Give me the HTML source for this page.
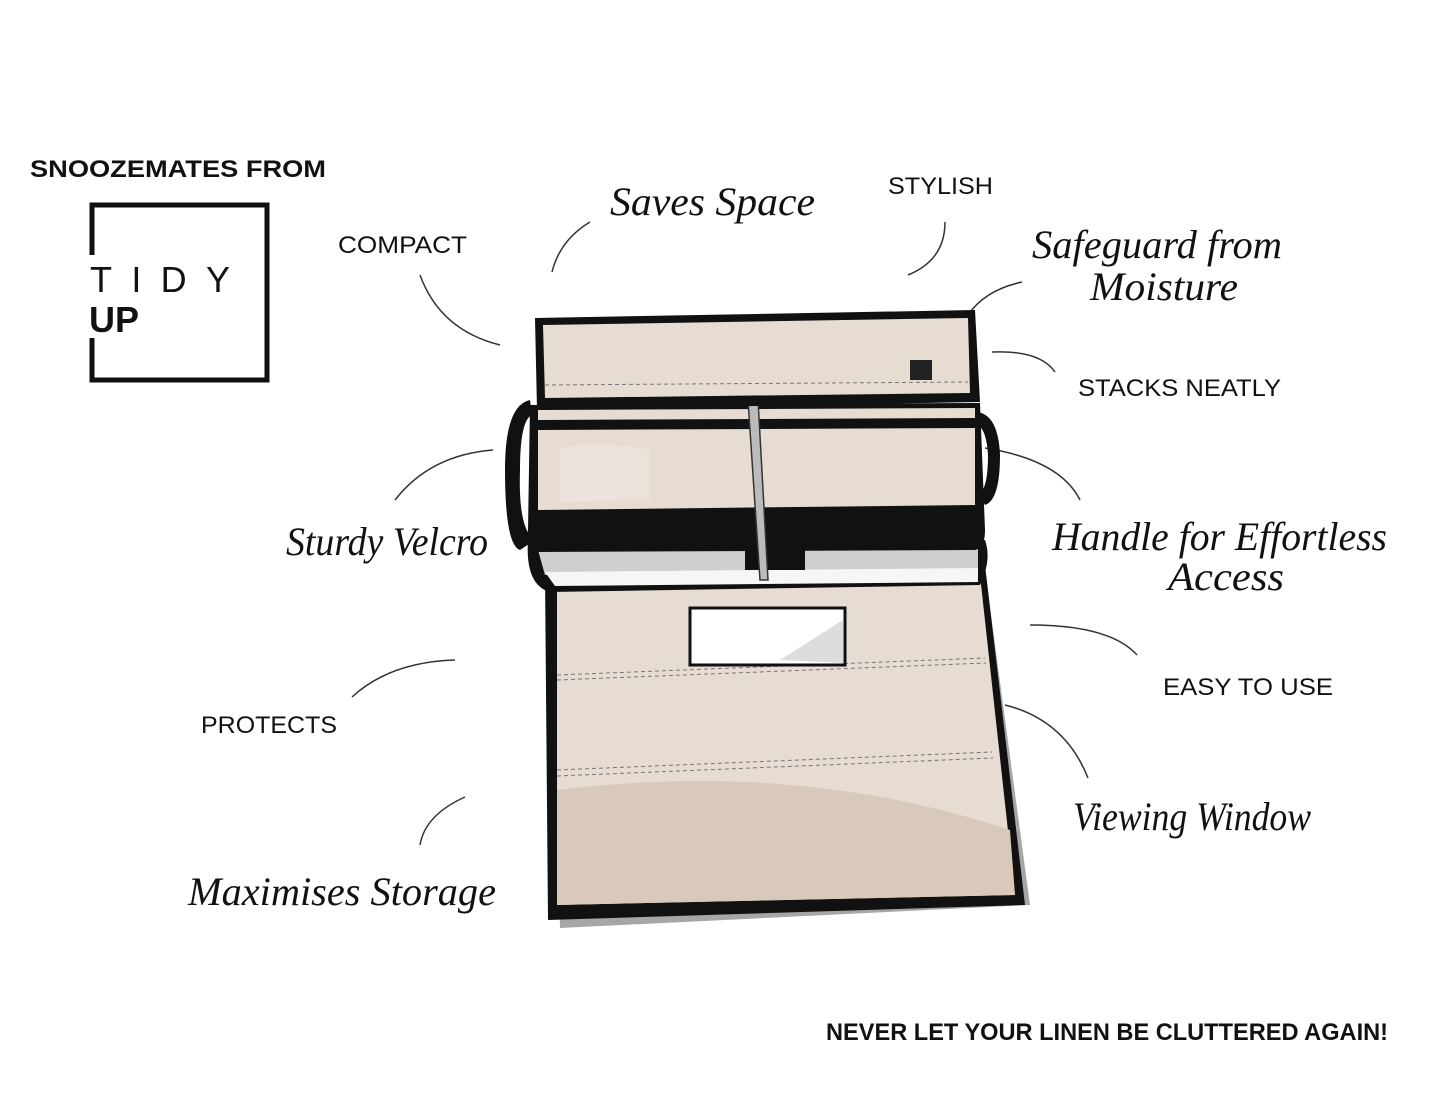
<!DOCTYPE html>
<html><head><meta charset="utf-8"><style>
html,body{margin:0;padding:0;background:#fff;}
svg{display:block}
.c{font-family:"Liberation Sans",sans-serif;fill:#111;font-size:24px;}
.s{font-family:"Liberation Serif",serif;font-style:italic;fill:#111;font-size:40px;}
.l{fill:none;stroke:#333;stroke-width:1.5;}
</style></head><body>
<svg width="1445" height="1112" viewBox="0 0 1445 1112" xmlns="http://www.w3.org/2000/svg">
<rect width="1445" height="1112" fill="#fff"/>
<!-- logo -->
<text class="c" x="30" y="177" font-size="26" font-weight="bold" textLength="296" lengthAdjust="spacingAndGlyphs">SNOOZEMATES FROM</text>
<path d="M92 255 V205 H267 V380 H92 V338" fill="none" stroke="#111" stroke-width="5"/>
<text x="90" y="292" font-family="Liberation Sans,sans-serif" font-size="36" fill="#111" textLength="140" lengthAdjust="spacing">TIDY</text>
<text x="89" y="332" font-family="Liberation Sans,sans-serif" font-size="36" font-weight="bold" fill="#111">UP</text>
<!-- labels -->
<text class="c" x="338" y="253" textLength="129" lengthAdjust="spacingAndGlyphs">COMPACT</text>
<text class="s" x="610" y="215" textLength="205" lengthAdjust="spacingAndGlyphs">Saves Space</text>
<text class="c" x="888" y="194" textLength="105" lengthAdjust="spacingAndGlyphs">STYLISH</text>
<text class="s" x="1032" y="258" textLength="250" lengthAdjust="spacingAndGlyphs">Safeguard from</text>
<text class="s" x="1090" y="300" textLength="148" lengthAdjust="spacingAndGlyphs">Moisture</text>
<text class="c" x="1078" y="396" textLength="203" lengthAdjust="spacingAndGlyphs">STACKS NEATLY</text>
<text class="s" x="1052" y="550" textLength="335" lengthAdjust="spacingAndGlyphs">Handle for Effortless</text>
<text class="s" x="1168" y="590" textLength="116" lengthAdjust="spacingAndGlyphs">Access</text>
<text class="s" x="286" y="555" textLength="202" lengthAdjust="spacingAndGlyphs">Sturdy Velcro</text>
<text class="c" x="201" y="733" textLength="136" lengthAdjust="spacingAndGlyphs">PROTECTS</text>
<text class="c" x="1163" y="695" textLength="170" lengthAdjust="spacingAndGlyphs">EASY TO USE</text>
<text class="s" x="1073" y="830" textLength="238" lengthAdjust="spacingAndGlyphs">Viewing Window</text>
<text class="s" x="188" y="905" textLength="308" lengthAdjust="spacingAndGlyphs">Maximises Storage</text>
<text class="c" x="826" y="1040" font-size="22" font-weight="bold" textLength="562" lengthAdjust="spacingAndGlyphs">NEVER LET YOUR LINEN BE CLUTTERED AGAIN!</text>
<!-- leaders -->
<path class="l" d="M590 222 Q560 240 552 272"/>
<path class="l" d="M420 275 Q440 330 500 345"/>
<path class="l" d="M945 222 Q945 260 908 275"/>
<path class="l" d="M1022 282 Q985 290 968 315"/>
<path class="l" d="M992 352 Q1040 350 1055 372"/>
<path class="l" d="M985 448 Q1060 460 1080 500"/>
<path class="l" d="M493 450 Q430 455 395 500"/>
<path class="l" d="M455 660 Q390 662 352 697"/>
<path class="l" d="M1030 625 Q1110 625 1137 655"/>
<path class="l" d="M1005 705 Q1065 720 1088 778"/>
<path class="l" d="M465 797 Q425 815 420 845"/>
<!-- bag: bottom panel -->
<path d="M552 585 L985 570 L1030 905 L560 928 Z" fill="#6a6a6a" opacity="0.6"/>
<path d="M545 575 L985 565 L1025 905 L548 920 Z" fill="#111"/>
<path d="M557 583 L980 575 L1015 895 L557 905 Z" fill="#e6dcd2"/>
<path d="M557 790 Q800 760 1010 830 L1015 895 L557 905 Z" fill="#d8c9bb"/>
<path d="M557 675 L985 658 M557 680 L986 663 M557 770 L992 752 M557 776 L993 758" stroke="#777" stroke-width="1" stroke-dasharray="4 3"/>
<rect x="690" y="608" width="155" height="57" fill="#fff" stroke="#111" stroke-width="3"/>
<path d="M780 660 L843 620 L843 663 Z" fill="#ddd"/>
<!-- handles -->
<path d="M530 400 Q505 405 505 470 Q505 545 520 550 L535 540 Q518 530 520 470 Q520 420 532 415 Z" fill="#111"/>
<path d="M972 412 Q998 410 1000 455 Q1000 500 985 505 L978 495 Q988 490 988 455 Q986 425 975 425 Z" fill="#111"/>
<!-- inner grey/white -->
<path d="M528 540 Q525 585 550 592 L980 585 Q992 560 985 540 Z" fill="#111"/>
<path d="M538 550 L978 548 L978 572 L545 575 Z" fill="#cfcfcf"/>
<path d="M545 572 L978 568 L978 582 L555 586 Z" fill="#f6f6f6"/>
<rect x="745" y="545" width="60" height="25" fill="#111"/>
<!-- body -->
<path d="M530 405 L980 403 L985 530 Q985 548 975 550 L535 552 Q527 550 528 530 Z" fill="#111"/>
<path d="M538 430 L975 428 L975 505 L538 510 Z" fill="#e6dcd2"/>
<path d="M538 410 L975 408 L975 418 L538 420 Z" fill="#e6dcd2"/>
<path d="M560 448 Q600 440 650 450 L650 500 L560 502 Z" fill="#efe8e1" opacity="0.6"/>
<rect x="543" y="518" width="430" height="28" rx="12" fill="#111"/>
<path d="M748 400 L758 400 L768 580 L760 580 Z" fill="#bbb" stroke="#333" stroke-width="1.5"/>
<!-- lid -->
<path d="M535 318 L975 310 L980 402 L537 410 Z" fill="#111"/>
<path d="M543 325 L968 318 L970 393 L545 398 Z" fill="#e6dcd2"/>
<path d="M545 385 L968 382" stroke="#777" stroke-dasharray="4 3"/>
<rect x="910" y="360" width="22" height="20" fill="#222"/>
</svg>
</body></html>
